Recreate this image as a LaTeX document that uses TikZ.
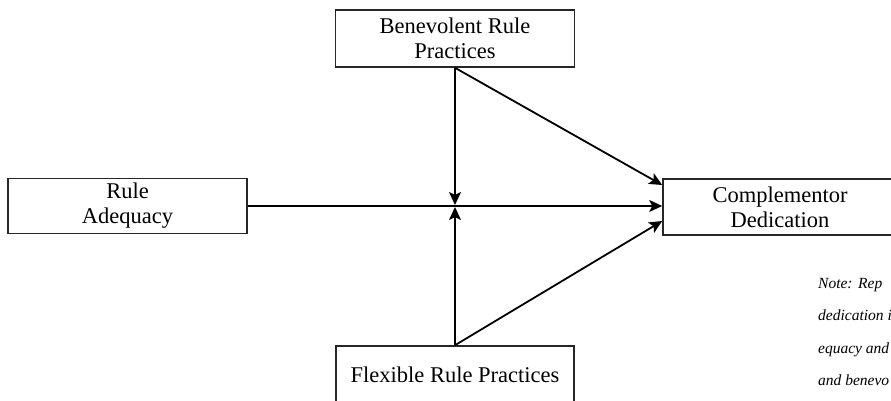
\documentclass[tikz,border=0pt]{standalone}
\usepackage{fontspec}
\setmainfont{Liberation Serif}
\usetikzlibrary{arrows.meta}
\begin{document}
\begin{tikzpicture}[x=1pt,y=-1pt,
  box/.style={draw=black!85, line width=1.6pt, inner sep=0pt, align=center,
    font=\fontsize{22.5}{25}\selectfont},
  link/.style={line width=1.8pt, -{Stealth[length=13pt,width=12pt,inset=3pt]}},
  note/.style={font=\itshape\fontsize{15.5}{17}\selectfont, anchor=base west, inner sep=0pt}]
\useasboundingbox (0,0) rectangle (891,401);
\clip (0,0) rectangle (891,401);

% construct boxes
\node[box, minimum width=239pt, minimum height=57pt] (ben) at (455,38.5) {Benevolent Rule\\Practices};
\node[box, minimum width=239pt, minimum height=55pt] (ra) at (127.5,206) {Rule\\Adequacy};
\node[box, minimum width=234pt, minimum height=56pt] (cd) at (780,207) {Complementor\\Dedication};
\node[box, minimum width=238pt, minimum height=57pt] (fl) at (455,374.5) {Flexible Rule Practices};

% moderation point on the main path
\coordinate (jt) at (455,205);
\coordinate (jb) at (455,207);

% main effect
\draw[link] (ra.east) -- (ra.east -| cd.west);
% moderators acting on the main path
\draw[link] (ben.south) -- (jt);
\draw[link] (fl.north) -- (jb);
% direct effects of the moderators
\draw[link] (ben.south) -- ([yshift=22pt]cd.west);
\draw[link] (fl.north) -- ([yshift=-14pt]cd.west);

% note beside the model
\node[note] (n1) at (818,288) {Note:};
\node[note] (n1b) at (858,288) {Rep};
\node[note] (n2) at (818,320) {dedication i};
\node[note] (n3) at (818,353) {equacy and};
\node[note] (n4) at (818,385) {and benevo};
\end{tikzpicture}
\end{document}
